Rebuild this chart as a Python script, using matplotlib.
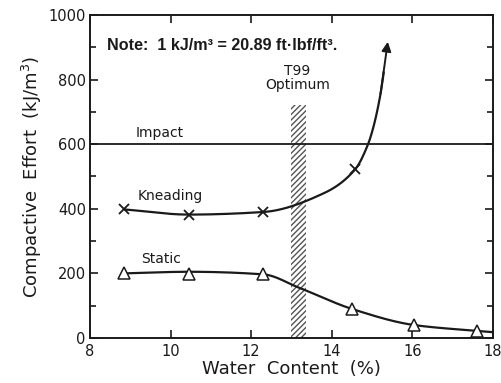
import numpy as np
import matplotlib
matplotlib.use("Agg")
import matplotlib.pyplot as plt
from matplotlib.ticker import MultipleLocator

# Measured compactive effort for each compaction method
kneading_x = [8.85, 10.45, 12.3, 14.58]
kneading_y = [398, 382, 390, 522]
# kneading trend continues beyond the last test toward the arrow tip
kneading_curve_x = [8.85, 10.45, 12.3, 13.8, 14.58, 14.9, 15.02, 15.2, 15.39]
kneading_curve_y = [398, 382, 390, 448, 522, 600, 647, 749, 917]

static_x = [8.85, 10.45, 12.3, 14.5, 16.05, 17.6]
static_y = [200, 197, 197, 90, 40, 22]
static_curve_x = [8.85, 10.45, 12.3, 13.2, 14.5, 16.05, 17.6, 18.0]
static_curve_y = [200, 205, 197, 155, 90, 40, 22, 18]

impact_level = 600
optimum_range = [13.0, 13.37]
optimum_top = 720

x_ticks = [8, 10, 12, 14, 16, 18]
y_ticks = [0, 200, 400, 600, 800, 1000]


def pchip(xk, yk, xs):
    """Monotone piecewise cubic Hermite interpolation."""
    xk = np.asarray(xk, float)
    yk = np.asarray(yk, float)
    h = np.diff(xk)
    d = np.diff(yk) / h
    n = len(xk)
    m = np.zeros(n)
    for i in range(1, n - 1):
        if d[i - 1] * d[i] <= 0:
            m[i] = 0.0
        else:
            w1 = 2 * h[i] + h[i - 1]
            w2 = h[i] + 2 * h[i - 1]
            m[i] = (w1 + w2) / (w1 / d[i - 1] + w2 / d[i])
    m[0] = d[0]
    m[-1] = d[-1]
    idx = np.clip(np.searchsorted(xk, xs) - 1, 0, n - 2)
    t = (xs - xk[idx]) / h[idx]
    h00 = 2 * t**3 - 3 * t**2 + 1
    h10 = t**3 - 2 * t**2 + t
    h01 = -2 * t**3 + 3 * t**2
    h11 = t**3 - t**2
    return (h00 * yk[idx] + h10 * h[idx] * m[idx]
            + h01 * yk[idx + 1] + h11 * h[idx] * m[idx + 1])


fig = plt.figure(figsize=(5.01, 3.83), dpi=100)
ax = fig.add_axes([0.1796, 0.1175, 0.8044, 0.8435])

ink = "#1a1a1a"

# optimum water content band
ax.fill_between(optimum_range, 0, optimum_top, facecolor="white",
                edgecolor="#555555", hatch="//////", linewidth=0, zorder=1)

# impact line
ax.axhline(impact_level, color=ink, lw=1.3, zorder=2)

# kneading curve with arrow
kx = np.linspace(kneading_curve_x[0], kneading_curve_x[-1], 400)
ky = pchip(kneading_curve_x, kneading_curve_y, kx)
ax.plot(kx[:-6], ky[:-6], color=ink, lw=1.6, zorder=3, solid_capstyle="butt")
ax.annotate("", xy=(kx[-1], ky[-1]), xytext=(kx[-12], ky[-12]),
            arrowprops=dict(arrowstyle="-|>", color=ink, lw=1.4,
                            mutation_scale=14, shrinkA=0, shrinkB=0),
            zorder=3)
ax.plot(kneading_x, kneading_y, linestyle="none", marker="x", ms=7,
        mew=1.3, color=ink, zorder=4)

# static curve
sx = np.linspace(static_curve_x[0], static_curve_x[-1], 300)
sy = pchip(static_curve_x, static_curve_y, sx)
ax.plot(sx, sy, color=ink, lw=1.6, zorder=3)
ax.plot(static_x, static_y, linestyle="none", marker="^", ms=8, mew=1.1,
        mfc="white", mec=ink, zorder=4)

ax.set_xlim(8, 18)
ax.set_ylim(0, 1000)
ax.set_xticks(x_ticks)
ax.set_xticklabels([str(v) for v in x_ticks])
ax.set_yticks(y_ticks)
ax.set_yticklabels([str(v) for v in y_ticks])
ax.yaxis.set_minor_locator(MultipleLocator(100))
ax.tick_params(axis="both", which="both", direction="in",
               top=True, right=True, labelsize=10.5, colors=ink, width=1.2)
ax.tick_params(which="major", length=6)
ax.tick_params(which="minor", length=4)
ax.tick_params(axis="x", pad=4)
ax.tick_params(axis="y", pad=3)
for s in ax.spines.values():
    s.set_linewidth(1.4)
    s.set_color(ink)

ax.set_xlabel("Water  Content  (%)", fontsize=13, color=ink, labelpad=1)
ax.set_ylabel("Compactive  Effort  (kJ/m$^3$)", fontsize=13, color=ink,
              labelpad=3)

ax.text(8.42, 905, "Note:  1 kJ/m³ = 20.89 ft·lbf/ft³.",
        fontsize=11.6, fontweight="bold", family="Liberation Sans",
        color=ink, va="center", ha="left")
ax.text(13.15, 760, "T99\nOptimum", fontsize=10, color=ink, ha="center",
        va="bottom", linespacing=1.0)
ax.text(9.73, 612, "Impact", fontsize=10, color=ink, ha="center", va="bottom")
ax.text(9.98, 438, "Kneading", fontsize=10, color=ink, ha="center",
        va="center")
ax.text(9.77, 243, "Static", fontsize=10, color=ink, ha="center",
        va="center")

fig.savefig("out.png", dpi=100)
